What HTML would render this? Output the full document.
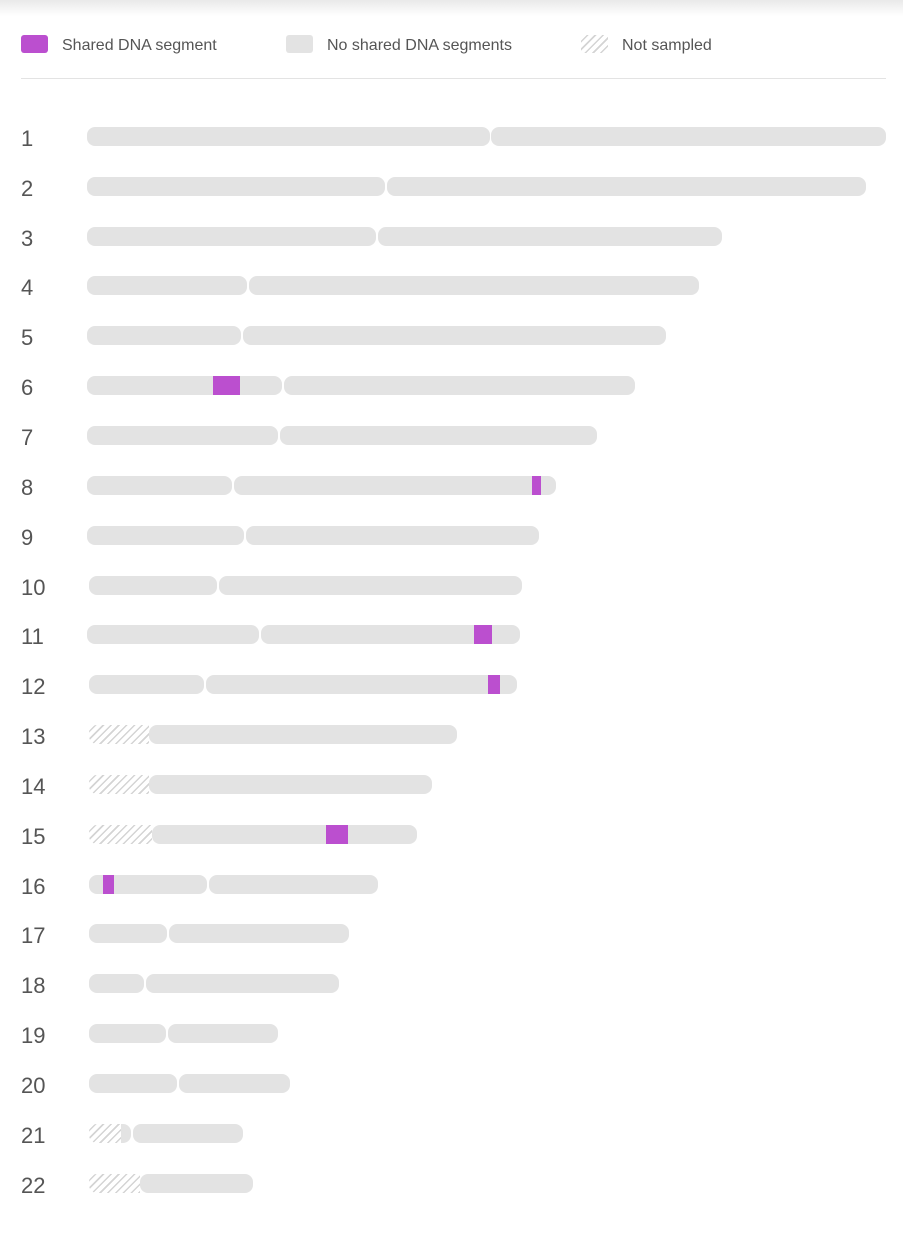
<!DOCTYPE html>
<html><head><meta charset="utf-8"><style>
body{margin:0;width:903px;height:1235px;background:#fff;position:relative;overflow:hidden;font-family:"Liberation Sans",Arial,sans-serif;color:#555}
.sh{position:absolute;left:0;top:0;width:903px;height:16px;background:linear-gradient(#e9e9e9,#fff)}
.lg{position:absolute;top:35px;width:27px;height:18px;border-radius:3px}
.lt{position:absolute;top:37px;font-size:16px;color:#555}
.hr{position:absolute;left:21px;top:78px;width:865px;height:1px;background:#e3e3e3}
.l{position:absolute;left:21px;font-size:22px;color:#555;width:40px;margin-top:2px}
.b{position:absolute;height:19px;background:#e3e3e3;border-radius:8px}
.p{position:absolute;height:19px;background:#bb4fcf}
.h{position:absolute;height:19px;border-radius:8px 0 0 8px;background:repeating-linear-gradient(135deg,#fff 0 4px,#d4d4d4 4px 5.5px)}
</style></head><body>
<div class="sh"></div>
<div class="lg" style="left:21px;background:#bb4fcf"></div><div class="lt" style="left:62px">Shared DNA segment</div>
<div class="lg" style="left:286px;background:#e3e3e3"></div><div class="lt" style="left:327px">No shared DNA segments</div>
<div class="lg" style="left:581px;border-radius:0;background:repeating-linear-gradient(135deg,#fff 0 4px,#d4d4d4 4px 5.5px)"></div><div class="lt" style="left:622px">Not sampled</div>
<div class="hr"></div>

<div class="l" style="top:124px">1</div><div class="b" style="top:127px;left:87px;width:403px"></div><div class="b" style="top:127px;left:491px;width:395px"></div>
<div class="l" style="top:174px">2</div><div class="b" style="top:177px;left:87px;width:298px"></div><div class="b" style="top:177px;left:387px;width:479px"></div>
<div class="l" style="top:224px">3</div><div class="b" style="top:227px;left:87px;width:289px"></div><div class="b" style="top:227px;left:378px;width:344px"></div>
<div class="l" style="top:273px">4</div><div class="b" style="top:276px;left:87px;width:160px"></div><div class="b" style="top:276px;left:249px;width:450px"></div>
<div class="l" style="top:323px">5</div><div class="b" style="top:326px;left:87px;width:154px"></div><div class="b" style="top:326px;left:243px;width:423px"></div>
<div class="l" style="top:373px">6</div><div class="b" style="top:376px;left:87px;width:195px"></div><div class="b" style="top:376px;left:284px;width:351px"></div><div class="p" style="top:376px;left:213px;width:27px"></div>
<div class="l" style="top:423px">7</div><div class="b" style="top:426px;left:87px;width:191px"></div><div class="b" style="top:426px;left:280px;width:317px"></div>
<div class="l" style="top:473px">8</div><div class="b" style="top:476px;left:87px;width:145px"></div><div class="b" style="top:476px;left:234px;width:322px"></div><div class="p" style="top:476px;left:532px;width:9px"></div>
<div class="l" style="top:523px">9</div><div class="b" style="top:526px;left:87px;width:157px"></div><div class="b" style="top:526px;left:246px;width:293px"></div>
<div class="l" style="top:573px">10</div><div class="b" style="top:576px;left:89px;width:128px"></div><div class="b" style="top:576px;left:219px;width:303px"></div>
<div class="l" style="top:622px">11</div><div class="b" style="top:625px;left:87px;width:172px"></div><div class="b" style="top:625px;left:261px;width:259px"></div><div class="p" style="top:625px;left:474px;width:18px"></div>
<div class="l" style="top:672px">12</div><div class="b" style="top:675px;left:89px;width:115px"></div><div class="b" style="top:675px;left:206px;width:311px"></div><div class="p" style="top:675px;left:488px;width:12px"></div>
<div class="l" style="top:722px">13</div><div class="h" style="top:725px;left:89px;width:60px"></div><div class="b" style="top:725px;left:149px;width:308px"></div>
<div class="l" style="top:772px">14</div><div class="h" style="top:775px;left:89px;width:60px"></div><div class="b" style="top:775px;left:149px;width:283px"></div>
<div class="l" style="top:822px">15</div><div class="h" style="top:825px;left:89px;width:63px"></div><div class="b" style="top:825px;left:152px;width:265px"></div><div class="p" style="top:825px;left:326px;width:22px"></div>
<div class="l" style="top:872px">16</div><div class="b" style="top:875px;left:89px;width:118px"></div><div class="b" style="top:875px;left:209px;width:169px"></div><div class="p" style="top:875px;left:103px;width:11px"></div>
<div class="l" style="top:921px">17</div><div class="b" style="top:924px;left:89px;width:78px"></div><div class="b" style="top:924px;left:169px;width:180px"></div>
<div class="l" style="top:971px">18</div><div class="b" style="top:974px;left:89px;width:55px"></div><div class="b" style="top:974px;left:146px;width:193px"></div>
<div class="l" style="top:1021px">19</div><div class="b" style="top:1024px;left:89px;width:77px"></div><div class="b" style="top:1024px;left:168px;width:110px"></div>
<div class="l" style="top:1071px">20</div><div class="b" style="top:1074px;left:89px;width:88px"></div><div class="b" style="top:1074px;left:179px;width:111px"></div>
<div class="l" style="top:1121px">21</div><div class="b" style="top:1124px;left:112px;width:19px;border-radius:0 8px 8px 0"></div><div class="h" style="top:1124px;left:89px;width:32px"></div><div class="b" style="top:1124px;left:133px;width:110px"></div>
<div class="l" style="top:1171px">22</div><div class="h" style="top:1174px;left:89px;width:51px"></div><div class="b" style="top:1174px;left:140px;width:113px"></div>
</body></html>
